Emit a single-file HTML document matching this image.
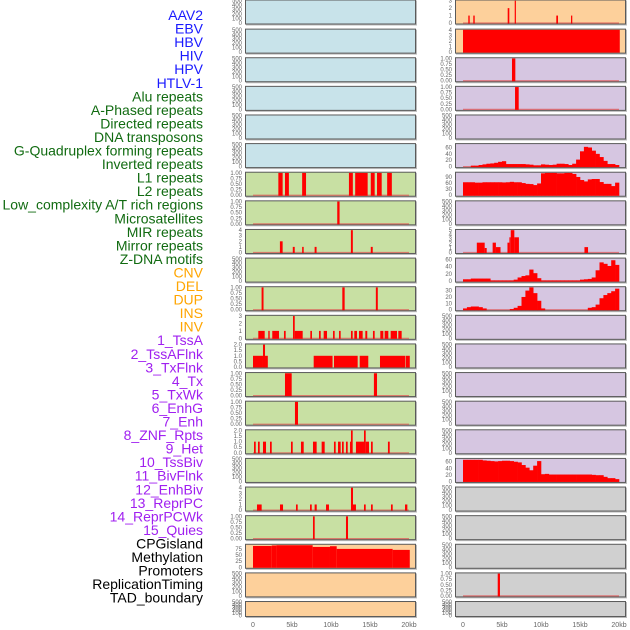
<!DOCTYPE html>
<html><head><meta charset="utf-8"><style>
html,body{margin:0;padding:0;background:#fff;}
svg{display:block;font-family:"Liberation Sans",sans-serif;}
</style></head><body>
<svg id="chart" width="630" height="630" viewBox="0 0 630 630" xmlns="http://www.w3.org/2000/svg"></svg>
<script>
// ---------- labels ----------
const labelTexts = ["AAV2","EBV","HBV","HIV","HPV","HTLV-1","Alu repeats","A-Phased repeats","Directed repeats","DNA transposons","G-Quadruplex forming repeats","Inverted repeats","L1 repeats","L2 repeats","Low_complexity A/T rich regions","Microsatellites","MIR repeats","Mirror repeats","Z-DNA motifs","CNV","DEL","DUP","INS","INV","1_TssA","2_TssAFlnk","3_TxFlnk","4_Tx","5_TxWk","6_EnhG","7_Enh","8_ZNF_Rpts","9_Het","10_TssBiv","11_BivFlnk","12_EnhBiv","13_ReprPC","14_ReprPCWk","15_Quies","CPGisland","Methylation","Promoters","ReplicationTiming","TAD_boundary"];
const labelGroups = [6,13,5,15,5];
const groupColors = ["#1a1aff","#116b11","#ffa500","#a020f0","#000000"];

// ---------- x axis ----------
const xTicks = [0,5,10,15,20];
const xTickLabels = ["0","5kb","10kb","15kb","20kb"];

// ---------- tick sets ----------
const ticksEmpty = [0,100,200,300,400,500];
const ticksUnit = [0,0.25,0.5,0.75,1];
const ticksUnitLbl = ["0.00","0.25","0.50","0.75","1.00"];
const ticks2 = [0,0.5,1,1.5,2];
const ticks2Lbl = ["0.0","0.5","1.0","1.5","2.0"];
const ticks3 = [0,1,2,3];
const ticks4 = [0,1,2,3,4];
const ticks5 = [0,1,2,3,4,5];
const ticks60 = [0,20,40,60];
const ticks90 = [0,30,60,90];
const ticks30 = [0,10,20,30];
const ticks75 = [0,25,50,75];

// ---------- left column segment data [startKb, endKb, value] ----------
const segL1 = [[3.25,3.8,1],[4.1,4.6,1],[6.3,6.8,1],[12.3,12.8,1],[13.1,14.7,1],[15.1,15.6,1],[15.9,16.5,1],[17.2,17.8,1]];
const segLowComplex = [[10.8,11.1,1]];
const segMIR = [[3.45,3.8,2],[5.1,5.35,1],[6.3,6.5,1],[7.9,8.15,1],[12.55,12.8,4],[15.1,15.35,1]];
const segDEL = [[1.1,1.35,1],[11.45,11.75,1],[15.75,16.0,1]];
const segINS = [[0.68,1.5,1],[1.96,2.14,1],[2.47,3.33,1],[3.97,4.19,1],[5.13,5.35,3],[5.35,6.37,1],[7.35,7.56,1],[8.46,8.68,1],[9.06,9.49,1],[10.26,10.47,1],[11.03,11.24,1],[12.56,12.78,1],[12.99,13.33,1],[13.59,14.06,1],[14.4,14.65,1],[15.38,15.6,1],[16.32,16.71,1],[16.88,17.35,1],[17.65,18.46,1],[18.63,19.06,1]];
const segTssA = [[0,1.28,1],[1.28,1.54,2],[1.54,1.9,1],[7.78,10.2,1],[10.38,13.42,1],[13.68,14.78,1],[16.28,19.53,1],[19.6,20.1,1]];
const segTxFlnk = [[4.1,4.96,1],[15.5,15.9,1]];
const segTxWk = [[5.38,5.77,1]];
const segEnh = [[0.13,0.35,1],[0.64,0.86,1],[1.28,1.67,1],[2.18,2.4,1],[4.87,5.09,1],[6.15,6.5,1],[7.69,8.16,1],[8.8,9.19,1],[10.38,10.6,1],[10.9,11.24,1],[11.41,11.63,1],[11.92,12.14,1],[12.44,12.56,1],[12.56,12.78,2],[13.2,14.23,1],[14.23,14.45,2],[14.45,14.87,1],[15.13,15.35,1],[17.3,17.53,1]];
const segBivFlnk = [[0.51,1.11,1],[3.46,3.85,1],[5.51,5.73,1],[7.31,7.53,1],[7.9,8.17,1],[9.36,9.74,1],[12.56,12.82,4],[12.82,13.2,1],[14.23,14.45,1],[15.13,15.35,1],[17.69,17.91,1],[19.49,19.79,1]];
const segReprPC = [[7.69,7.91,1],[11.92,12.18,1]];
const segCPG = [[0,2.4,87],[2.4,3.0,89],[3.0,7.65,90],[7.65,9.87,83],[9.87,10.73,86],[10.73,17.9,75],[17.9,20.1,71]];

// ---------- right column data ----------
const segAAV2 = [[0.68,0.86,1],[1.32,1.5,1],[5.73,5.94,2],[6.63,6.76,3],[11.96,12.18,1],[13.85,14.01,1]];
const segEBV = [[0,20.1,4]];
const segHIV = [[6.28,6.71,1]];
const segHTLV = [[6.67,7.14,1]];
const segMIRr = [[1.77,2.78,2.2],[2.78,3.04,1],[3.8,4.22,2.2],[4.22,4.81,1.2],[5.7,5.95,2.2],[5.95,6.12,3.4],[6.12,6.58,5],[6.58,7.17,3.4],[15.57,16.03,1.2]];
const segPromoters = [[4.45,4.74,1]];
// histograms, 0.5kb bins
const histGQuad = [0,0,3,3,5,7,9,10,12,15,17,8,8,8,8,8,7,6,4,4,7,6,5,6,9,9,8,5,9,22,48,62,60,50,40,30,18,8,8,5];
const histL1r = [64,64,64,62,62,64,64,64,64,64,63,64,66,64,64,60,56,55,50,58,108,110,110,110,108,108,110,110,105,90,75,68,78,80,80,65,56,56,45,62];
const histZDNA = [5,5,7,7,7,7,7,2,2,2,2,2,2,4,10,14,16,32,22,8,2,2,2,2,2,2,2,2,2,2,4,5,6,10,30,52,48,42,58,45];
const histDUP = [2,4,5,5,4,2,0,0,0,0,0,0,1,3,6,20,30,36,26,14,2,0,0,0,0,0,0,0,0,0,0,0,3,4,8,18,23,26,29,33];
const histHet = [66,66,66,66,66,64,63,62,61,62,63,63,62,60,58,50,42,34,48,62,22,23,21,21,21,21,21,21,21,21,21,21,21,20,19,19,14,10,10,7];

const C = {blue:"#c8e3ea",green:"#c8e0a3",orange:"#fdd09b",purple:"#d6c6e1",grey:"#d0d0d0"};
const E = {t:ticksEmpty,max:500};
const rows = [
 ["blue",E,"orange",{seg:segAAV2,t:ticks3,max:3,base:1}],
 ["blue",E,"orange",{seg:segEBV,t:ticks4,max:4}],
 ["blue",E,"purple",{seg:segHIV,t:ticksUnit,tl:ticksUnitLbl,max:1,base:1}],
 ["blue",E,"purple",{seg:segHTLV,t:ticksUnit,tl:ticksUnitLbl,max:1,base:1}],
 ["blue",E,"purple",E],
 ["blue",E,"purple",{hist:histGQuad,t:ticks60,max:70,base:1}],
 ["green",{seg:segL1,t:ticksUnit,tl:ticksUnitLbl,max:1,base:1},"purple",{hist:histL1r,t:ticks90,max:110}],
 ["green",{seg:segLowComplex,t:ticksUnit,tl:ticksUnitLbl,max:1,base:1},"purple",E],
 ["green",{seg:segMIR,t:ticks4,max:4,base:1},"purple",{seg:segMIRr,t:ticks5,max:5,base:1}],
 ["green",E,"purple",{hist:histZDNA,t:ticks60,max:62,base:1}],
 ["green",{seg:segDEL,t:ticksUnit,tl:ticksUnitLbl,max:1,base:1},"purple",{hist:histDUP,t:ticks30,max:35,base:1}],
 ["green",{seg:segINS,t:ticks3,max:3,base:1},"purple",E],
 ["green",{seg:segTssA,t:ticks2,tl:ticks2Lbl,max:2},"purple",E],
 ["green",{seg:segTxFlnk,t:ticksUnit,tl:ticksUnitLbl,max:1,base:1},"purple",E],
 ["green",{seg:segTxWk,t:ticksUnit,tl:ticksUnitLbl,max:1,base:1},"purple",E],
 ["green",{seg:segEnh,t:ticks2,tl:ticks2Lbl,max:2,base:1},"purple",E],
 ["green",E,"purple",{hist:histHet,t:ticks60,max:68}],
 ["green",{seg:segBivFlnk,t:ticks4,max:4,base:1},"grey",E],
 ["green",{seg:segReprPC,t:ticksUnit,tl:ticksUnitLbl,max:1,base:1},"grey",E],
 ["orange",{seg:segCPG,t:ticks75,max:91},"grey",E],
 ["orange",E,"grey",{seg:segPromoters,t:ticksUnit,tl:ticksUnitLbl,max:1,base:1}],
 ["orange",E,"grey",E]
];

const NS="http://www.w3.org/2000/svg";
const svg=document.getElementById("chart");
function mk(tag,attrs,parent){const e=document.createElementNS(NS,tag);for(const k in attrs)e.setAttribute(k,attrs[k]);(parent||svg).appendChild(e);return e;}

let gi=0,cnt=0;
labelTexts.forEach((t,i)=>{
  while(cnt>=labelGroups[gi]){cnt=0;gi++;}
  cnt++;
  const el=mk("text",{x:203,y:(20+13.55*i).toFixed(1),"text-anchor":"end","font-size":"14",fill:groupColors[gi]});
  el.textContent=t;
  
  
});

const colX=[245,455], PW=171, pitch=28.62;
function drawPanel(r,col,bg,spec){
  const top = r===0?-0.5:r*pitch;
  const h = r===21?16:25;
  const x0=colX[col];
  const g=mk("g",{});
  
  
  mk("rect",{x:x0+1,y:top+1,width:PW,height:h,fill:"#bbb"},g);
  mk("rect",{x:x0+0.5,y:top+0.5,width:PW-1,height:h-1,fill:C[bg],stroke:"#5a5a5a","stroke-width":1},g);
  const xs=kb=>x0+8+kb*7.8;
  const yb=top+h-1.5, yt=top+1.2;
  const ys=v=>yb-Math.min(v,spec.max)/spec.max*(yb-yt);
  spec.t.forEach((tv,i)=>{
    const tx=mk("text",{x:x0-3,y:(ys(tv)+2).toFixed(1),"text-anchor":"end","font-size":"6",fill:"#666"},g);
    tx.textContent=spec.tl?spec.tl[i]:String(tv);
  });
  if(spec.base||spec.hist){
    mk("line",{x1:xs(0),x2:xs(20),y1:yb,y2:yb,stroke:"#e05050","stroke-opacity":0.7,"stroke-width":1.2},g);
  }
  if(spec.seg){
    spec.seg.forEach(s=>{
      const b=mk("rect",{x:xs(s[0]).toFixed(2),y:ys(s[2]).toFixed(2),width:Math.max(1.2,xs(s[1])-xs(s[0])).toFixed(2),height:(yb-ys(s[2])+0.5).toFixed(2),fill:"#ff0000"},g);
      
      
    });
  }
  if(spec.hist){
    const bw=20/spec.hist.length;
    spec.hist.forEach((v,i)=>{
      if(v<=0)return;
      const b=mk("rect",{x:xs(i*bw).toFixed(2),y:ys(v).toFixed(2),width:(xs(bw)-xs(0)+0.3).toFixed(2),height:(yb-ys(v)+0.5).toFixed(2),fill:"#ff0000"},g);
      
      
    });
  }
}
rows.forEach((r,i)=>{drawPanel(i,0,r[0],r[1]);drawPanel(i,1,r[2],r[3]);});

[0,1].forEach(col=>{
  xTicks.forEach((v,i)=>{
    const t=mk("text",{x:colX[col]+8+v*7.8,y:627,"text-anchor":"middle","font-size":"7",fill:"#666"});
    t.textContent=xTickLabels[i];
    
    
  });
});
</script>
</body></html>
